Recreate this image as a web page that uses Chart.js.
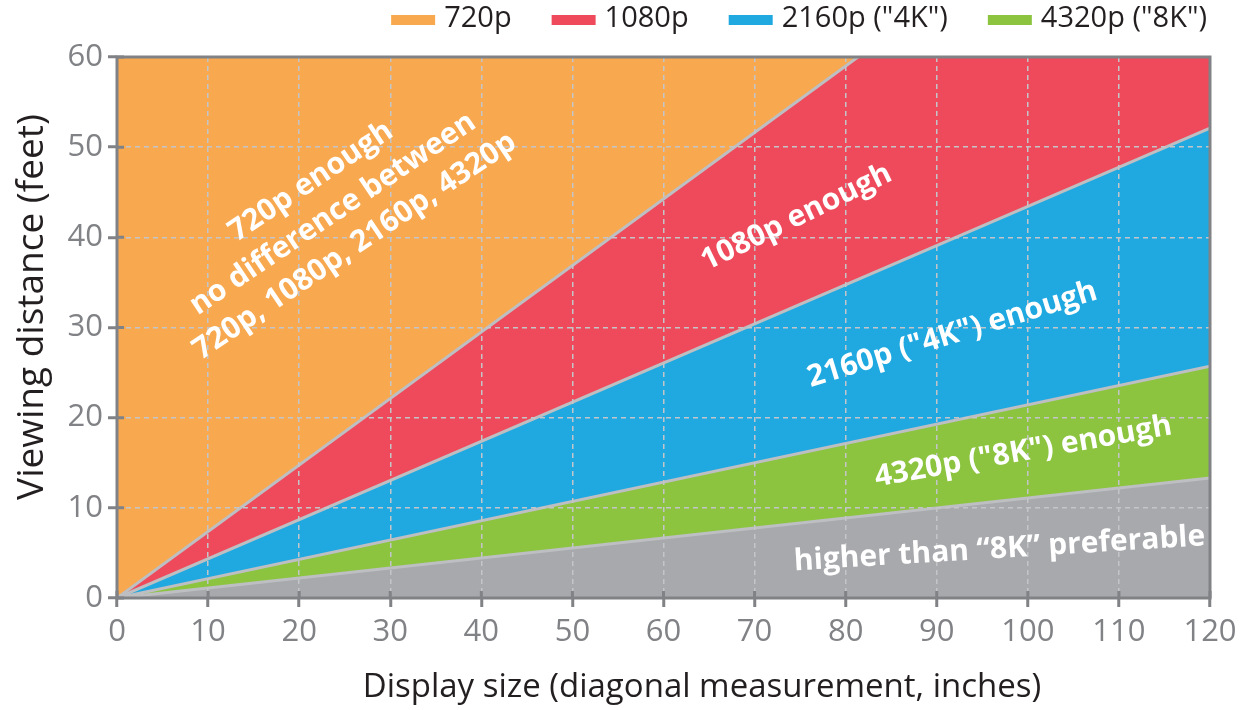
<!DOCTYPE html>
<html>
<head>
<meta charset="utf-8">
<script src="https://cdn.jsdelivr.net/npm/chart.js@4.4.1/dist/chart.umd.min.js"></script>
<style>
html,body{margin:0;padding:0;background:#ffffff;}
#wrap{width:1246px;height:710px;position:relative;}
canvas{display:block;}
</style>
</head>
<body>
<div id="wrap"><canvas id="c" width="1246" height="710"></canvas></div>
<script>
// ---- data ----
const sizes = [0, 120];                 // display size, inches
const lim720  = [0, 88.5];              // viewing distance (feet) above which 720p is enough
const lim1080 = [0, 52.1];              // ... 1080p enough
const lim2160 = [0, 25.7];              // ... 2160p enough
const lim4320 = [0, 13.3];              // ... 4320p enough
const xTickValues = [0, 10, 20, 30, 40, 50, 60, 70, 80, 90, 100, 110, 120];
const yTickValues = [0, 10, 20, 30, 40, 50, 60];
const seriesLabels = ['720p', '1080p', '2160p ("4K")', '4320p ("8K")', 'higher than "8K"'];
const xTitle = 'Display size (diagonal measurement, inches)';
const yTitle = 'Viewing distance (feet)';
const noteTexts = [
  ['720p enough', 'no difference between', '720p, 1080p, 2160p, 4320p'],
  ['1080p enough'],
  ['2160p ("4K") enough'],
  ['4320p ("8K") enough'],
  ['higher than \u201C8K\u201D preferable']
];

// ---- styling / placement ----
const colors = ['#F8A950', '#EE4A5B', '#20A9E0', '#8CC440', '#A7A9AC'];
const boundaryColor = '#BDBFC2';
const axisGray = '#808285';
const dark = '#231F20';
const notePlacement = [
  {x: 23.7, y: 42.6, angle: 34},
  {x: 74.6, y: 42.2, angle: 26},
  {x: 91.7, y: 29.2, angle: 17},
  {x: 99.5, y: 16.2, angle: 10},
  {x: 96.9, y: 5.4,  angle: 3.5}
];

const pts = arr => sizes.map((s, i) => ({x: s, y: arr[i]}));
const fills = ['end', '-1', '-1', '-1', 'start'];
const lines = [lim720, lim1080, lim2160, lim4320, lim4320];

const datasets = lines.map((arr, i) => ({
  label: seriesLabels[i],
  data: pts(arr),
  backgroundColor: colors[i],
  borderColor: boundaryColor,
  borderWidth: i === 4 ? 0 : 3,
  pointRadius: 0,
  tension: 0,
  fill: fills[i],
  inLegend: i < 4
}));

const decor = {
  id: 'decor',
  afterDraw(chart) {
    const {ctx, chartArea: a, scales: {x, y}} = chart;
    ctx.save();
    // annotations
    ctx.fillStyle = '#ffffff';
    ctx.font = 'bold 30px "Open Sans"';
    ctx.textAlign = 'center';
    ctx.textBaseline = 'middle';
    noteTexts.forEach((ls, k) => {
      const p = notePlacement[k];
      const px = x.getPixelForValue(p.x), py = y.getPixelForValue(p.y);
      ctx.save();
      ctx.translate(px, py);
      ctx.rotate(-p.angle * Math.PI / 180);
      ls.forEach((t, i) => ctx.fillText(t, 0, (i - (ls.length - 1) / 2) * 39));
      ctx.restore();
    });
    // frame
    ctx.strokeStyle = axisGray;
    ctx.lineWidth = 3;
    ctx.strokeRect(a.left, a.top, a.right - a.left, a.bottom - a.top);
    // inner tick extensions
    ctx.beginPath();
    x.ticks.forEach(t => {
      const px = x.getPixelForValue(t.value);
      ctx.moveTo(px, a.bottom); ctx.lineTo(px, a.bottom - 7);
    });
    y.ticks.forEach(t => {
      const py = y.getPixelForValue(t.value);
      ctx.moveTo(a.left, py); ctx.lineTo(a.left + 7, py);
    });
    ctx.stroke();
    // axis titles
    ctx.fillStyle = dark;
    ctx.textAlign = 'center';
    ctx.textBaseline = 'middle';
    ctx.font = '33px "Open Sans"';
    ctx.fillText(xTitle, 702, 688);
    ctx.save();
    ctx.translate(32, 307);
    ctx.rotate(-Math.PI / 2);
    ctx.font = '37px "Open Sans"';
    ctx.fillText(yTitle, 0, 0);
    ctx.restore();
    // legend (from datasets)
    ctx.font = '29px "Open Sans"';
    ctx.textAlign = 'left';
    const items = chart.data.datasets.filter(d => d.inLegend);
    const boxW = 44, boxH = 10, gap = 9, spacing = 40;
    const widths = items.map(d => boxW + gap + ctx.measureText(d.label).width);
    let total = widths.reduce((s, w) => s + w, 0) + spacing * (items.length - 1);
    let cx = 1207 - total;
    items.forEach((d, i) => {
      ctx.fillStyle = d.backgroundColor;
      ctx.fillRect(cx, 15, boxW, boxH);
      ctx.fillStyle = dark;
      ctx.fillText(d.label, cx + boxW + gap, 19);
      cx += widths[i] + spacing;
    });
    ctx.restore();
  }
};

new Chart(document.getElementById('c'), {
  type: 'line',
  data: {datasets},
  options: {
    responsive: false,
    animation: false,
    devicePixelRatio: 1,
    layout: {padding: {top: 57, right: 36, bottom: 0, left: 0}},
    plugins: {legend: {display: false}, tooltip: {enabled: false}},
    scales: {
      x: {
        type: 'linear', min: 0, max: 120,
        afterBuildTicks: s => { s.ticks = xTickValues.map(v => ({value: v})); },
        afterFit: s => { s.height = 112; },
        ticks: {color: axisGray, font: {family: 'Open Sans', size: 31}, padding: 7, maxRotation: 0},
        grid: {color: '#C3C5C9', lineWidth: 1.5, z: 1, tickColor: axisGray, tickWidth: 3, tickLength: 9},
        border: {display: false, dash: [5, 4]}
      },
      y: {
        type: 'linear', min: 0, max: 60,
        afterBuildTicks: s => { s.ticks = yTickValues.map(v => ({value: v})); },
        afterFit: s => { s.width = 117; },
        ticks: {color: axisGray, font: {family: 'Open Sans', size: 31}, padding: 5},
        grid: {color: '#C3C5C9', lineWidth: 1.5, z: 1, tickColor: axisGray, tickWidth: 3, tickLength: 9},
        border: {display: false, dash: [5, 4]}
      }
    }
  },
  plugins: [decor]
});
</script>
</body>
</html>
